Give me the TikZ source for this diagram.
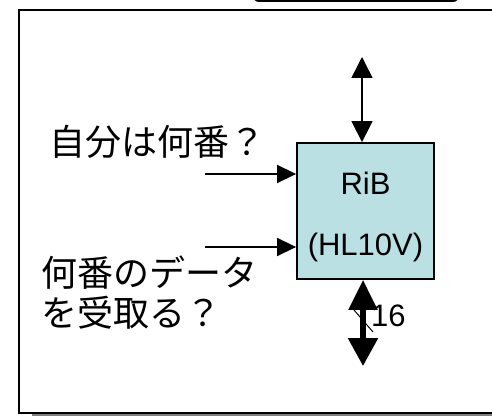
\documentclass[tikz,border=0pt]{standalone}
\usepackage{fontspec}
\setmainfont{Liberation Sans}
\newfontfamily\jp{Noto Sans CJK JP}
\usetikzlibrary{arrows.meta}
\definecolor{ribfill}{RGB}{187,224,227}
\definecolor{shadowgray}{RGB}{128,128,128}
\begin{document}
\begin{tikzpicture}[x=1pt,y=-1pt,
  latin/.style={font=\fontsize{31}{37}\selectfont, inner sep=0pt},
  jtext/.style={font=\jp\fontsize{36}{40}\selectfont, inner sep=0pt, align=left},
  inarrow/.style={line width=1.5pt, -{Triangle[length=19pt,width=18pt]}},
  toparrow/.style={line width=1.5pt, {Triangle[length=21pt,width=21pt]}-{Triangle[length=21pt,width=21pt]}},
  busarrow/.style={line width=5.5pt, {Triangle[length=30pt,width=28pt]}-{Triangle[length=28pt,width=29pt]}},
  ribbox/.style={draw=black, line width=1.8pt, fill=ribfill, minimum width=137pt, minimum height=136pt, inner sep=0pt}]
\useasboundingbox (0,0) rectangle (492,417);
\clip (0,0) rectangle (492,417);
% title box edge above the picture
\fill[black, rounded corners=6pt] (253,-40) rectangle (459,2);
% frame shadow and frame
\fill[shadowgray] (32,23) rectangle (520,416);
\draw[line width=1.5pt, fill=white] (19,10) rectangle (510,413);
% RiB block
\node[ribbox] (rib) at (365.5,211) {};
\node[latin] (ribname) at (365.5,183) {RiB};
\node[latin] (ribtype) at (365.5,247) {(HL10V)};
% labels
\node[jtext, anchor=west] (q1) at (49,142) {自分は何番？};
\node[jtext, anchor=north west] (q2) at (41,256) {何番のデータ\\を受取る？};
% input arrows
\coordinate (in1) at (205,174);
\coordinate (in2) at (205,247);
\draw[inarrow] (in1) -- (in1 -| rib.west);
\draw[inarrow] (in2) -- (in2 -| rib.west);
% top bidirectional arrow
\coordinate (top) at (362,57);
\draw[toparrow] (top) -- (top |- rib.north);
% bottom 16-bit bus
\coordinate (bot) at (363,366);
\draw[busarrow] (bot |- rib.south) -- (bot);
\coordinate (sl1) at (354,310);
\coordinate (sl2) at (373,332);
\draw[line width=1pt] (sl1) -- (sl2);
\node[latin, anchor=west] (width) at (371,316) {16};
\end{tikzpicture}
\end{document}
